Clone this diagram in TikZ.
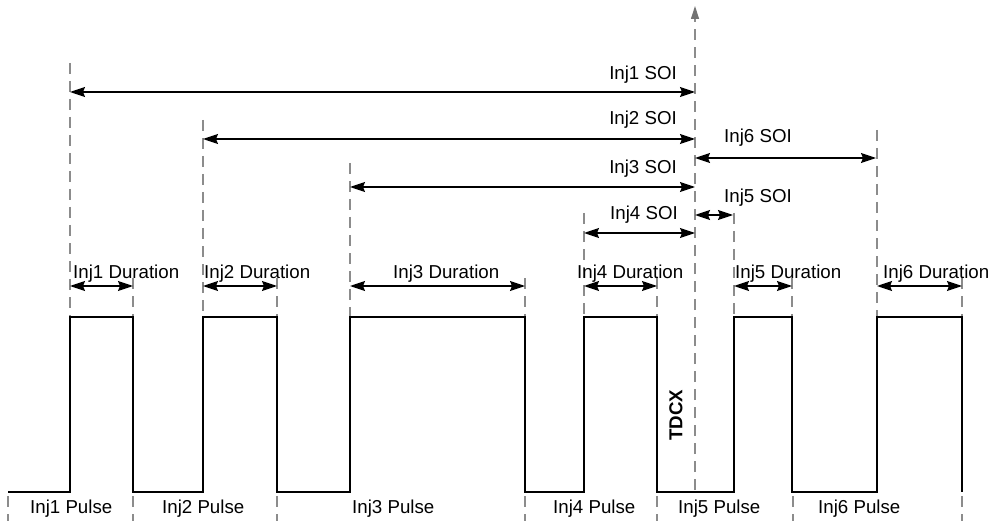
\documentclass[tikz,border=0pt]{standalone}
\usepackage{fontspec}
\setmainfont{Liberation Sans}
\usetikzlibrary{arrows.meta}
\begin{document}
\begin{tikzpicture}[x=1pt,y=-1pt,
  guide/.style={draw=black!45, line width=1.2pt, dash pattern=on 11pt off 7pt},
  dim/.style={draw=black, line width=1.4pt, {Stealth[length=15pt,width=10pt,inset=2pt]}-{Stealth[length=15pt,width=10pt,inset=2pt]}},
  wave/.style={draw=black, line width=1.5pt, line join=miter},
  lbl/.style={inner sep=0pt, font=\fontsize{18.7}{22}\selectfont}]
\useasboundingbox (0,0) rectangle (992,521);
% edge coordinates: name / x / top of guide
\foreach \n/\x/\t in {r1/70/63, f1/133/278, r2/203/120, f2/277/278, r3/350/163, f3/525/278,
                      r4/584/213, f4/657/278, r5/734/213, f5/792/278, r6/877/130, f6/962/278}{
  \coordinate (\n-top) at (\x,\t);
  \coordinate (\n-hi) at (\x,317);
  \coordinate (\n-lo) at (\x,492);
}
% guides
\foreach \n in {r1,f1,r2,f2,r3,f3,r4,f4,r5,f5,r6,f6}{
  \draw[guide] (\n-top) -- (\n-hi);
}
% TDCX line
\coordinate (tdc-top) at (695,6);
\coordinate (tdc-bot) at (695,490);
\draw[guide, -{Triangle[length=13pt,width=8pt,fill=black!55,color=black!55]}] (tdc-bot) -- (tdc-top);
% bottom separators
\foreach \n/\x in {b1/8, b2/133, b3/277, b4/525, b5/657, b6/793, b7/962}{
  \coordinate (\n-t) at (\x,496);
  \coordinate (\n-b) at (\x,521);
  \draw[guide] (\n-t) -- (\n-b);
}
% waveform
\coordinate (w0) at (8,492);
\draw[wave] (w0) -- (r1-lo) -- (r1-hi) -- (f1-hi) -- (f1-lo) -- (r2-lo) -- (r2-hi) -- (f2-hi) -- (f2-lo)
  -- (r3-lo) -- (r3-hi) -- (f3-hi) -- (f3-lo) -- (r4-lo) -- (r4-hi) -- (f4-hi) -- (f4-lo)
  -- (r5-lo) -- (r5-hi) -- (f5-hi) -- (f5-lo) -- (r6-lo) -- (r6-hi) -- (f6-hi) -- (f6-lo);
% SOI arrows
\coordinate (s1a) at (70,92);  \coordinate (s1b) at (695,92);
\coordinate (s2a) at (203,139); \coordinate (s2b) at (695,139);
\coordinate (s3a) at (350,187); \coordinate (s3b) at (695,187);
\coordinate (s4a) at (584,233); \coordinate (s4b) at (695,233);
\coordinate (s5a) at (695,215); \coordinate (s5b) at (733,215);
\coordinate (s6a) at (695,158); \coordinate (s6b) at (876,158);
\foreach \n in {s1,s2,s3,s4,s5,s6}{ \draw[dim] (\n a) -- (\n b); }
% duration arrows
\foreach \i/\a/\b in {1/70/133, 2/203/277, 3/350/525, 4/584/657, 5/734/792, 6/877/962}{
  \coordinate (d\i-a) at (\a,286); \coordinate (d\i-b) at (\b,286);
  \draw[dim] (d\i-a) -- (d\i-b);
}
% SOI labels
\node[lbl, anchor=base east] (l1) at (677,80) {Inj1 SOI};
\node[lbl, anchor=base east] (l2) at (677,125) {Inj2 SOI};
\node[lbl, anchor=base east] (l3) at (677,174) {Inj3 SOI};
\node[lbl, anchor=base west] (l4) at (610,219) {Inj4 SOI};
\node[lbl, anchor=base west] (l5) at (724,203) {Inj5 SOI};
\node[lbl, anchor=base west] (l6) at (724,143) {Inj6 SOI};
% duration labels
\node[lbl, anchor=base west] (ld1) at (73,278) {Inj1 Duration};
\node[lbl, anchor=base west] (ld2) at (204,278) {Inj2 Duration};
\node[lbl, anchor=base west] (ld3) at (393,278) {Inj3 Duration};
\node[lbl, anchor=base west] (ld4) at (577,278) {Inj4 Duration};
\node[lbl, anchor=base west] (ld5) at (735,278) {Inj5 Duration};
\node[lbl, anchor=base west] (ld6) at (883,278) {Inj6 Duration};
% pulse labels
\node[lbl, anchor=base west] (lp1) at (30,513) {Inj1 Pulse};
\node[lbl, anchor=base west] (lp2) at (162,513) {Inj2 Pulse};
\node[lbl, anchor=base west] (lp3) at (352,513) {Inj3 Pulse};
\node[lbl, anchor=base west] (lp4) at (553,513) {Inj4 Pulse};
\node[lbl, anchor=base west] (lp5) at (678,513) {Inj5 Pulse};
\node[lbl, anchor=base west] (lp6) at (818,513) {Inj6 Pulse};
% TDCX
\node[lbl, font=\fontsize{18.7}{22}\selectfont\bfseries, rotate=90] (tdcx) at (676,415) {TDCX};
\end{tikzpicture}
\end{document}
